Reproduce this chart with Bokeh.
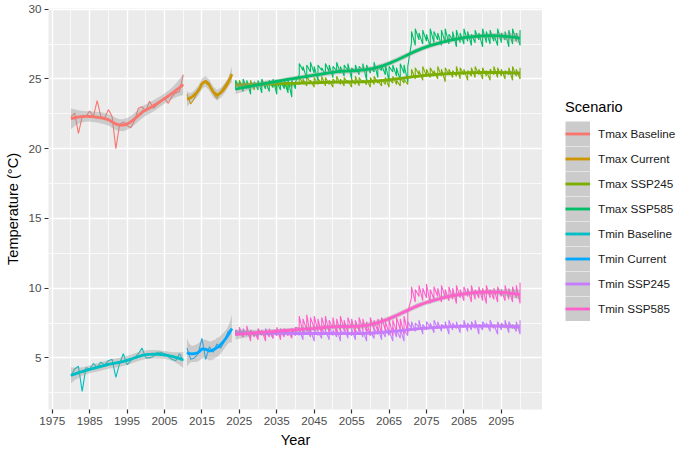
import numpy as np
from bokeh.plotting import figure
from bokeh.layouts import row
from bokeh.models import Range1d, FixedTicker, Legend, LegendItem
from bokeh.embed import file_html
from bokeh.resources import INLINE

FONT = "Liberation Sans"

# ---------------------------------------------------------------- data
baseline_years = list(range(1980, 2011))
current_years = list(range(2011, 2024))
future_years = list(range(2024, 2101))

tmax_baseline = [22.3, 22.55, 21.1, 22.3, 22.3, 22.7, 22.3, 23.45, 22.3, 22.2,
                 22.8, 22.3, 20.0, 21.75, 21.9, 21.65, 21.5, 22.0, 22.9, 23.0,
                 22.7, 23.4, 22.9, 23.15, 23.4, 23.6, 23.25, 23.75, 24.0, 24.1,
                 25.3]
tmin_baseline = [3.7, 4.2, 4.4, 2.6, 4.3, 4.2, 4.6, 4.3, 4.7, 4.5,
                 4.8, 4.9, 3.6, 4.6, 5.3, 4.5, 4.8, 5.0, 5.3, 5.7,
                 5.0, 5.0, 5.1, 5.4, 5.4, 5.3, 5.1, 4.9, 4.8, 5.3,
                 4.8]

tmax_current = [23.9, 23.2, 23.6, 24.2, 24.6, 24.9, 24.7, 24.0, 23.6, 24.1,
                24.5, 24.9, 25.2]
tmin_current = [5.7, 4.9, 5.0, 5.3, 6.4, 4.9, 5.8, 5.4, 6.0, 5.7,
                6.2, 6.9, 7.0]

# future scenarios: low / high value of the yearly ensemble spread
tmax_ssp245_lo = [24.4, 24.5, 24.3, 24.5, 24.4, 24.2, 24.5, 24.4, 24.3, 24.5, 24.4, 24.3, 24.5, 24.4, 24.2, 24.4, 24.5,
                  24.6, 24.7, 24.5, 24.7, 24.4, 24.6, 24.7, 24.5, 24.6, 24.4, 24.7, 24.6, 24.5, 24.7, 24.4,
                  24.6, 24.5, 24.7, 24.6, 24.4, 24.6, 24.7, 24.5, 24.6, 24.4, 24.7, 24.6, 24.5, 24.7, 24.6,
                  25.2, 25.0, 25.3, 24.9, 25.2, 25.1, 25.3, 25.0, 25.2, 24.8, 25.3, 25.1, 25.2, 25.0, 25.3,
                  24.9, 25.2, 25.1, 25.3, 25.0, 25.2, 24.9, 25.3, 25.1, 25.2, 25.0, 25.3, 24.9, 25.2, 25.0]
tmax_ssp245_hi = [24.8, 24.9, 24.7, 24.8, 24.9, 24.7, 24.8, 24.9, 24.8, 24.7, 24.9, 24.8, 24.7, 24.9, 24.8, 24.7, 24.8,
                  25.1, 25.0, 25.2, 24.9, 25.1, 25.0, 25.2, 25.1, 24.9, 25.0, 25.2, 25.0, 25.1, 24.9, 25.0,
                  25.2, 25.1, 24.9, 25.0, 25.1, 25.2, 24.9, 25.0, 25.1, 25.0, 25.2, 24.9, 25.1, 25.0, 25.1,
                  25.7, 25.8, 25.6, 25.9, 25.7, 25.8, 25.6, 25.9, 25.7, 25.8, 25.7, 25.6, 25.9, 25.8, 25.7,
                  25.6, 25.8, 25.9, 25.7, 25.8, 25.6, 25.7, 25.9, 25.8, 25.7, 25.6, 25.8, 25.9, 25.7, 25.8]

tmax_ssp585_lo = [24.2, 24.4, 24.1, 24.3, 23.9, 24.4, 24.2, 24.0, 24.3, 24.1, 24.4, 23.9, 24.2, 24.3, 24.0, 23.7, 24.3,
                  25.3, 25.6, 25.0, 25.5, 25.4, 24.9, 25.6, 25.3, 25.5, 25.1, 25.6, 25.4, 25.2, 25.6, 25.0,
                  25.5, 25.3, 25.6, 24.9, 25.4, 25.5, 25.1, 25.6, 25.3, 24.8, 25.5, 25.2, 24.9, 25.4, 24.8,
                  27.6, 27.4, 27.8, 27.5, 27.7, 27.3, 27.6, 27.8, 27.4, 27.6, 27.5, 27.8, 27.3, 27.6, 27.5,
                  27.7, 27.4, 27.6, 27.8, 27.3, 27.6, 27.5, 27.7, 27.4, 27.6, 27.8, 27.3, 27.5, 27.7, 27.4]
tmax_ssp585_hi = [24.9, 24.8, 25.0, 24.9, 24.7, 24.8, 24.9, 25.0, 24.8, 24.9, 25.0, 24.8, 24.9, 24.8, 25.0, 24.9, 24.8,
                  26.1, 25.9, 26.0, 26.2, 25.9, 26.0, 25.8, 26.1, 26.0, 25.9, 26.2, 25.9, 26.0, 26.1, 25.8,
                  26.0, 25.9, 26.1, 26.0, 25.8, 26.2, 25.9, 26.0, 26.1, 25.9, 26.0, 25.8, 26.1, 26.0, 25.9,
                  28.4, 28.6, 28.3, 28.5, 28.2, 28.6, 28.4, 28.3, 28.5, 28.6, 28.2, 28.4, 28.5, 28.3, 28.6,
                  28.4, 28.2, 28.5, 28.3, 28.6, 28.4, 28.5, 28.2, 28.6, 28.3, 28.4, 28.5, 28.6, 28.3, 28.5]

tmin_ssp245_lo = [6.6, 6.7, 6.5, 6.6, 6.4, 6.6, 6.5, 6.7, 6.5, 6.6, 6.4, 6.6, 6.5, 6.7, 6.6, 6.5, 6.6,
                  6.6, 6.3, 6.7, 6.5, 6.2, 6.6, 6.4, 6.7, 6.3, 6.6, 6.5, 6.2, 6.7, 6.4, 6.6,
                  6.3, 6.7, 6.5, 6.2, 6.6, 6.4, 6.7, 6.3, 6.5, 6.6, 6.2, 6.5, 6.4, 6.2, 6.6,
                  7.1, 6.9, 7.2, 6.7, 7.0, 7.2, 6.8, 7.1, 6.9, 7.2, 6.7, 7.0, 7.1, 6.8, 7.2,
                  6.9, 7.0, 7.1, 6.7, 7.0, 7.2, 6.9, 7.1, 6.7, 7.0, 7.2, 6.8, 7.1, 6.9, 6.7]
tmin_ssp245_hi = [7.0, 6.9, 7.1, 6.9, 7.0, 6.8, 7.0, 6.9, 7.1, 6.9, 7.0, 6.9, 7.1, 7.0, 6.9, 7.0, 7.1,
                  7.1, 7.0, 7.2, 7.0, 7.1, 6.9, 7.1, 7.0, 7.2, 7.0, 7.1, 7.0, 7.2, 6.9, 7.1,
                  7.0, 7.2, 7.0, 7.1, 6.9, 7.1, 7.2, 7.0, 7.1, 7.0, 7.2, 7.0, 7.1, 7.0, 7.6,
                  7.6, 7.5, 7.7, 7.4, 7.6, 7.5, 7.7, 7.6, 7.4, 7.6, 7.7, 7.5, 7.6, 7.4, 7.7,
                  7.5, 7.6, 7.7, 7.4, 7.6, 7.5, 7.7, 7.4, 7.6, 7.5, 7.7, 7.6, 7.4, 7.6, 7.7]

tmin_ssp585_lo = [6.6, 6.7, 6.5, 6.7, 6.2, 6.5, 6.3, 6.6, 6.2, 6.5, 6.4, 6.6, 6.3, 6.5, 6.6, 6.4, 6.7,
                  7.1, 6.8, 7.0, 6.6, 7.1, 6.9, 6.7, 7.0, 6.8, 7.1, 6.6, 6.9, 7.0, 6.8, 7.1,
                  6.7, 6.9, 7.0, 6.8, 6.6, 7.0, 6.9, 6.7, 7.0, 6.8, 6.6, 6.9, 7.0, 6.7, 6.8,
                  9.3, 9.0, 9.4, 9.1, 9.3, 8.9, 9.2, 9.4, 9.0, 9.3, 9.1, 9.2, 8.9, 9.3, 9.1,
                  9.4, 9.0, 9.2, 9.3, 9.1, 8.9, 9.3, 9.2, 9.0, 9.4, 9.1, 9.2, 9.0, 9.3, 8.9]
tmin_ssp585_hi = [7.0, 7.2, 6.9, 7.3, 7.0, 6.9, 7.1, 7.0, 6.9, 7.1, 7.0, 7.2, 6.9, 7.1, 7.0, 7.1, 7.2,
                  8.0, 7.8, 8.1, 7.9, 8.0, 7.8, 7.9, 8.0, 7.7, 7.9, 7.8, 8.0, 7.7, 7.9, 7.8,
                  7.7, 7.9, 7.8, 7.6, 7.9, 7.7, 7.8, 7.9, 7.6, 7.8, 7.7, 7.9, 7.8, 8.0, 8.3,
                  10.1, 9.9, 10.2, 10.0, 10.3, 9.9, 10.1, 10.0, 10.2, 9.9, 10.1, 10.0, 10.2, 9.9, 10.1,
                  10.0, 10.2, 9.9, 10.1, 10.0, 10.2, 9.9, 10.0, 10.1, 9.9, 10.2, 10.0, 10.1, 10.2, 10.4]

scenarios = ["Tmax Baseline", "Tmax Current", "Tmax SSP245", "Tmax SSP585",
             "Tmin Baseline", "Tmin Current", "Tmin SSP245", "Tmin SSP585"]
palette = ["#F8766D", "#CD9600", "#7CAE00", "#00BE67",
           "#00BFC4", "#00A9FF", "#C77CFF", "#FF61CC"]

x_ticks = [1975, 1985, 1995, 2005, 2015, 2025, 2035, 2045, 2055, 2065, 2075, 2085, 2095]
x_minor = [1980, 1990, 2000, 2010, 2020, 2030, 2040, 2050, 2060, 2070, 2080, 2090, 2100]
y_ticks = [5, 10, 15, 20, 25, 30]
y_minor = [2.5, 7.5, 12.5, 17.5, 22.5, 27.5]


def spread_path(years, lo, hi):
    """Points of a yearly ensemble drawn as one connected line."""
    xs, ys = [], []
    for yr, a, b in zip(years, lo, hi):
        xs += [yr, yr]
        ys += [a, b]
    return np.array(xs, float), np.array(ys, float)


def t_quantile(df, z=1.959964):
    # Cornish-Fisher expansion of the 97.5% Student t quantile
    return (z + (z**3 + z) / (4 * df)
            + (5 * z**5 + 16 * z**3 + 3 * z) / (96 * df**2)
            + (3 * z**7 + 19 * z**5 + 17 * z**3 - 15 * z) / (384 * df**3))


def loess(x, y, span=0.75, n_out=80):
    """Local quadratic regression with tricube weights and a 95% band."""
    n = len(x)
    q = int(np.floor(n * span))

    def row_weights(x0):
        d = np.abs(x - x0)
        h = np.sort(d)[q - 1]
        u = np.clip(d / h, 0, 1)
        w = (1 - u**3) ** 3
        X = np.column_stack([np.ones(n), x - x0, (x - x0) ** 2])
        XtW = X.T * w
        return np.linalg.solve(XtW @ X, XtW)[0]

    L = np.array([row_weights(xi) for xi in x])
    resid = y - L @ y
    M = (np.eye(n) - L).T @ (np.eye(n) - L)
    d1 = np.trace(M)
    d2 = np.trace(M @ M)
    s = np.sqrt(np.sum(resid**2) / d1)
    t = t_quantile(d1**2 / d2)
    grid = np.linspace(x.min(), x.max(), n_out)
    fit, se = [], []
    for g in grid:
        l = row_weights(g)
        fit.append(l @ y)
        se.append(s * np.sqrt(np.sum(l**2)))
    fit, se = np.array(fit), np.array(se)
    return grid, fit, fit - t * se, fit + t * se


series = [
    (np.array(baseline_years, float), np.array(tmax_baseline, float)),
    (np.array(current_years, float), np.array(tmax_current, float)),
    spread_path(future_years, tmax_ssp245_lo, tmax_ssp245_hi),
    spread_path(future_years, tmax_ssp585_lo, tmax_ssp585_hi),
    (np.array(baseline_years, float), np.array(tmin_baseline, float)),
    (np.array(current_years, float), np.array(tmin_current, float)),
    spread_path(future_years, tmin_ssp245_lo, tmin_ssp245_hi),
    spread_path(future_years, tmin_ssp585_lo, tmin_ssp585_hi),
]

# ---------------------------------------------------------------- main panel
p = figure(width=542, height=458, output_backend="svg", toolbar_location=None,
           x_range=Range1d(1974, 2106), y_range=Range1d(1.3, 30.05),
           min_border_left=48, min_border_right=0,
           min_border_top=8, min_border_bottom=49)
p.background_fill_color = "#EBEBEB"
p.border_fill_color = "white"
p.outline_line_color = None

p.xaxis.ticker = FixedTicker(ticks=x_ticks, minor_ticks=x_minor)
p.yaxis.ticker = FixedTicker(ticks=y_ticks, minor_ticks=y_minor)
for g in (p.xgrid, p.ygrid):
    g.grid_line_color = "white"
    g.grid_line_width = 1.4
    g.minor_grid_line_color = "white"
    g.minor_grid_line_width = 0.7

for ax in (p.xaxis, p.yaxis):
    ax.axis_line_color = None
    ax.major_tick_line_color = "#333333"
    ax.major_tick_line_width = 1.2
    ax.major_tick_out = 4
    ax.major_tick_in = 0
    ax.minor_tick_line_color = None
    ax.major_label_text_font = FONT
    ax.major_label_text_font_size = "11.7px"
    ax.major_label_text_color = "#4D4D4D"
    ax.major_label_standoff = 3
    ax.axis_label_text_font = FONT
    ax.axis_label_text_font_size = "14.6px"
    ax.axis_label_text_font_style = "normal"
    ax.axis_label_text_color = "black"
    ax.axis_label_standoff = 4

p.xaxis.axis_label = "Year"
p.yaxis.axis_label = "Temperature (°C)"

# yearly values
for (x, y), col in zip(series, palette):
    p.line(x, y, line_color=col, line_width=1.1)

# smoothed trends with confidence bands
for (x, y), col in zip(series, palette):
    gx, fit, lo, hi = loess(x, y)
    p.varea(x=gx, y1=lo, y2=hi, fill_color="#999999", fill_alpha=0.4)
    p.line(gx, fit, line_color=col, line_width=2.85)

# ---------------------------------------------------------------- legend panel
lg = figure(width=142, height=458, output_backend="svg", toolbar_location=None,
            x_axis_type=None, y_axis_type=None,
            x_range=Range1d(0, 1), y_range=Range1d(0, 1),
            min_border_left=0, min_border_right=0,
            min_border_top=0, min_border_bottom=0)
lg.outline_line_color = None
lg.background_fill_color = "white"
lg.border_fill_color = "white"
lg.xgrid.visible = False
lg.ygrid.visible = False

# key glyphs carry no data: they only feed the legend swatches
key_bg = lg.line(x=[np.nan], y=[np.nan], line_color="#CBCBCB", line_width=25,
                 line_cap="butt")
items = []
for name, col in zip(scenarios, palette):
    r = lg.line(x=[np.nan], y=[np.nan], line_color=col, line_width=2.85)
    items.append(LegendItem(label=name, renderers=[key_bg, r]))

legend = Legend(items=items, location=(23, 88), orientation="vertical",
                title="Scenario", title_text_font=FONT, title_text_font_size="14.6px",
                title_text_color="black", title_text_font_style="normal", title_standoff=6,
                label_text_font=FONT, label_text_font_size="11.7px", label_text_color="#1A1A1A",
                glyph_width=25, glyph_height=25, label_height=25, spacing=0,
                label_standoff=8, padding=0, margin=0,
                border_line_color=None, background_fill_alpha=0)
lg.add_layout(legend, "center")

layout = row(p, lg, spacing=0)
open("out.html", "w").write(file_html(layout, INLINE))
